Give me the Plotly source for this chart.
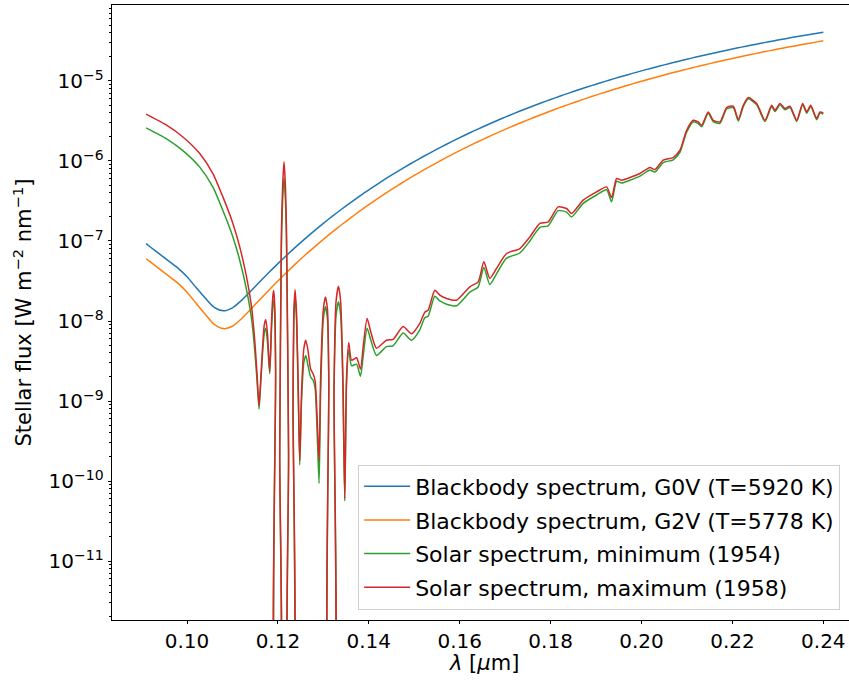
import numpy as np
import plotly.graph_objects as go

# ---------------- data ----------------
bb_wavelength_um = [
    0.091, 0.092, 0.094, 0.096, 0.098, 0.100, 0.102, 0.104, 0.106, 0.108,
    0.110, 0.112, 0.114, 0.116, 0.118, 0.120, 0.122, 0.124, 0.126, 0.128,
    0.130, 0.132, 0.134, 0.136, 0.138, 0.140, 0.142, 0.144, 0.146, 0.148,
    0.150, 0.152, 0.154, 0.156, 0.158, 0.160, 0.162, 0.164, 0.166, 0.168,
    0.170, 0.172, 0.174, 0.176, 0.178, 0.180, 0.182, 0.184, 0.186, 0.188,
    0.190, 0.192, 0.194, 0.196, 0.198, 0.200, 0.202, 0.204, 0.206, 0.208,
    0.210, 0.212, 0.214, 0.216, 0.218, 0.220, 0.222, 0.224, 0.226, 0.228,
    0.230, 0.232, 0.234, 0.236, 0.238, 0.240]

# log10 of flux [W m^-2 nm^-1]
bb_g0v_log10 = [
    -7.034, -7.078, -7.165, -7.252, -7.339, -7.447, -7.582, -7.713, -7.830, -7.873,
    -7.835, -7.742, -7.629, -7.510, -7.395, -7.283, -7.1745, -7.0703, -6.9699, -6.8732,
    -6.7800, -6.6902, -6.6035, -6.5198, -6.4390, -6.3610, -6.2856, -6.2127, -6.1423, -6.0741,
    -6.0082, -5.9444, -5.8826, -5.8227, -5.7647, -5.7085, -5.6541, -5.6012, -5.5500, -5.5004,
    -5.4521, -5.4053, -5.3599, -5.3158, -5.2729, -5.2313, -5.1909, -5.1516, -5.1134, -5.0762,
    -5.0401, -5.0050, -4.9708, -4.9375, -4.9052, -4.8737, -4.8431, -4.8132, -4.7842, -4.7559,
    -4.7283, -4.7015, -4.6754, -4.6499, -4.6251, -4.6009, -4.5773, -4.5544, -4.5319, -4.5101,
    -4.4888, -4.4681, -4.4478, -4.4281, -4.4088, -4.3900]

bb_g2v_log10 = [
    -7.222, -7.265, -7.352, -7.440, -7.527, -7.640, -7.777, -7.915, -8.042, -8.095,
    -8.066, -7.971, -7.855, -7.734, -7.615, -7.499, -7.3871, -7.2795, -7.1758, -7.0759,
    -6.9795, -6.8867, -6.7971, -6.7105, -6.6270, -6.5463, -6.4683, -6.3928, -6.3200, -6.2494,
    -6.1811, -6.1151, -6.0510, -5.9890, -5.9289, -5.8706, -5.8142, -5.7594, -5.7063, -5.6548,
    -5.6047, -5.5561, -5.5090, -5.4632, -5.4186, -5.3754, -5.3334, -5.2926, -5.2529, -5.2142,
    -5.1766, -5.1401, -5.1045, -5.0699, -5.0362, -5.0034, -4.9715, -4.9404, -4.9101, -4.8806,
    -4.8518, -4.8239, -4.7966, -4.7700, -4.7441, -4.7188, -4.6942, -4.6702, -4.6467, -4.6239,
    -4.6016, -4.5799, -4.5587, -4.5380, -4.5178, -4.4981]

solar_wavelength_um = [
    0.0910, 0.0955, 0.0991, 0.1028, 0.1057, 0.1079, 0.1101, 0.1116, 0.1131, 0.1142, 0.1149, 0.1154, 0.11585,
    0.1162, 0.1166, 0.1170, 0.11733, 0.1177, 0.1182, 0.1186, 0.1189, 0.11908, 0.1193, 0.1195, 0.1196,
    0.1203, 0.1204, 0.12077, 0.12105, 0.12135, 0.12165, 0.1219, 0.12235, 0.1225,
    0.1232, 0.12333, 0.1235, 0.12378, 0.1241, 0.1245, 0.12481, 0.1252, 0.1257, 0.12613, 0.1266,
    0.1272, 0.12774, 0.1282, 0.1287, 0.12906, 0.1294, 0.1300, 0.13046, 0.1309, 0.1312, 0.1314,
    0.1322, 0.13235, 0.1328, 0.13332, 0.1338, 0.1343, 0.13471, 0.1351, 0.13559, 0.1362, 0.1373,
    0.13817, 0.1388, 0.13963, 0.1405, 0.14169,
    0.14389, 0.14535, 0.14755, 0.1494, 0.15122, 0.15232, 0.15305, 0.15452, 0.15562, 0.1571,
    0.1593, 0.16223, 0.16406, 0.16531, 0.16663, 0.1681, 0.1703, 0.17324, 0.17544, 0.17764,
    0.17947, 0.18167, 0.18351, 0.18461, 0.18717, 0.19011, 0.19232, 0.19342, 0.19452, 0.19562,
    0.19745, 0.19965, 0.20185, 0.20295, 0.20478, 0.20698, 0.20845, 0.20993, 0.21138, 0.21248,
    0.21323, 0.21468, 0.21578, 0.21726, 0.21873, 0.22019, 0.22129, 0.22239, 0.22349, 0.22534,
    0.22716, 0.22864, 0.22937, 0.23047, 0.23157, 0.23267, 0.23414, 0.23546, 0.23634, 0.23722,
    0.23854, 0.23927, 0.2400]

solar_min_1954_log10 = [
    -5.586, -5.723, -5.870, -6.077, -6.327, -6.619, -6.949, -7.24, -7.61, -7.97, -8.36, -8.74, -9.10,
    -8.80, -8.43, -8.15, -8.09, -8.26, -8.66, -8.10, -7.79, -7.74, -7.92, -8.70, -13.0,
    -13.0, -9.7, -7.05, -6.48, -6.21, -6.48, -7.05, -9.7, -13.0,
    -13.0, -9.1, -8.00, -7.68, -7.98, -9.00, -9.80, -9.00, -8.52, -8.43, -8.55,
    -8.70, -8.74, -8.85, -9.50, -10.03, -8.90, -7.97, -7.82, -7.97, -8.80, -13.0,
    -13.0, -8.9, -7.93, -7.76, -7.92, -8.80, -10.25, -8.80, -8.36, -8.56, -8.54,
    -8.69, -8.42, -8.09, -8.25, -8.43,
    -8.32, -8.31, -8.15, -8.24, -8.11, -7.96, -7.94, -7.69, -7.75, -7.79,
    -7.81, -7.64, -7.575, -7.33, -7.545, -7.41, -7.215, -7.15, -7.00, -6.83,
    -6.81, -6.62, -6.64, -6.70, -6.53, -6.425, -6.36, -6.51, -6.255, -6.275,
    -6.24, -6.19, -6.113, -6.137, -6.02, -5.985, -5.892, -5.64, -5.512, -5.532,
    -5.573, -5.405, -5.509, -5.53, -5.35, -5.333, -5.50, -5.32, -5.223, -5.298,
    -5.507, -5.32, -5.382, -5.297, -5.36, -5.331, -5.506, -5.297, -5.402, -5.319,
    -5.485, -5.402, -5.415]

solar_max_1958_log10 = [
    -5.415, -5.553, -5.700, -5.907, -6.157, -6.449, -6.781, -7.074, -7.449, -7.823, -8.239, -8.655, -9.06,
    -8.75, -8.35, -8.05, -7.98, -8.15, -8.63, -8.00, -7.68, -7.62, -7.80, -8.60, -13.0,
    -13.0, -9.6, -6.90, -6.30, -6.01, -6.30, -6.90, -9.6, -13.0,
    -13.0, -9.0, -7.90, -7.61, -7.90, -8.90, -9.75, -8.90, -8.35, -8.24, -8.36,
    -8.60, -8.66, -8.75, -9.30, -9.75, -8.70, -7.85, -7.70, -7.85, -8.70, -13.0,
    -13.0, -8.8, -7.75, -7.565, -7.75, -8.70, -10.22, -8.70, -8.27, -8.49, -8.46,
    -8.60, -8.30, -7.97, -8.15, -8.34,
    -8.24, -8.23, -8.07, -8.16, -8.03, -7.89, -7.865, -7.615, -7.677, -7.718,
    -7.74, -7.573, -7.511, -7.261, -7.468, -7.344, -7.156, -7.094, -6.949, -6.781,
    -6.761, -6.574, -6.594, -6.657, -6.49, -6.387, -6.324, -6.457, -6.219, -6.24,
    -6.207, -6.157, -6.082, -6.107, -5.99, -5.957, -5.866, -5.616, -5.491, -5.512,
    -5.553, -5.387, -5.491, -5.512, -5.332, -5.316, -5.482, -5.304, -5.207, -5.282,
    -5.491, -5.304, -5.366, -5.282, -5.345, -5.316, -5.491, -5.282, -5.387, -5.304,
    -5.47, -5.387, -5.40]

x_tick_values = [0.10, 0.12, 0.14, 0.16, 0.18, 0.20, 0.22, 0.24]
x_tick_labels = ["0.10", "0.12", "0.14", "0.16", "0.18", "0.20", "0.22", "0.24"]
y_tick_exponents = [-11, -10, -9, -8, -7, -6, -5]

series_names = ["Blackbody spectrum, G0V (T=5920 K)",
                "Blackbody spectrum, G2V (T=5778 K)",
                "Solar spectrum, minimum (1954)",
                "Solar spectrum, maximum (1958)"]
series_colors = ["#1f77b4", "#ff7f0e", "#2ca02c", "#d62728"]

# ---------------- figure ----------------
series = [
    (bb_wavelength_um, bb_g0v_log10, 0.8),
    (bb_wavelength_um, bb_g2v_log10, 0.8),
    (solar_wavelength_um, solar_min_1954_log10, 0.6),
    (solar_wavelength_um, solar_max_1958_log10, 0.6),
]

fig = go.Figure()
for i, (xs, ylog, smooth) in enumerate(series):
    assert len(xs) == len(ylog)
    fig.add_trace(go.Scatter(
        x=xs, y=np.power(10.0, np.array(ylog)), mode="lines",
        name=series_names[i],
        line=dict(color=series_colors[i], width=1.5, shape="spline", smoothing=smooth),
        legendgroup=f"g{i}",
    ))

font_family = "DejaVu Sans"
axis_common = dict(
    showline=True, linecolor="black", linewidth=0.8,
    ticks="outside", ticklen=3.5, tickwidth=0.8, tickcolor="black",
    showgrid=False, zeroline=False,
    tickfont=dict(family=font_family, size=20, color="black"),
)

fig.update_layout(
    width=849, height=682,
    margin=dict(l=112, r=0, t=5, b=62),
    paper_bgcolor="white", plot_bgcolor="white",
    font=dict(family=font_family, size=20, color="black"),
    showlegend=True,
    legend=dict(
        x=0.988, y=0.017, xanchor="right", yanchor="bottom",
        bgcolor="rgba(255,255,255,0.8)", bordercolor="#d0d0d0", borderwidth=1,
        font=dict(family=font_family, size=22, color="black"),
        tracegroupgap=2, itemwidth=46,
    ),
    xaxis=dict(
        range=[0.0835, 0.24565], tickmode="array",
        tickvals=x_tick_values, ticktext=x_tick_labels,
        mirror=True, **axis_common,
    ),
    yaxis=dict(
        type="log", range=[-11.737, -4.0506], tickmode="array",
        tickvals=[10.0 ** e for e in y_tick_exponents],
        ticktext=[f"10<sup>\u2212{-e}</sup>" for e in y_tick_exponents],
        minor=dict(ticks="outside", ticklen=2, tickwidth=0.6, tickcolor="black",
                   dtick="D1", showgrid=False),
        **axis_common,
    ),
    annotations=[
        dict(text="<i>\u03bb</i> [<i>\u00b5</i>m]", xref="paper", yref="paper",
             x=0.5054, y=-0.0699, xanchor="center", yanchor="middle", showarrow=False,
             font=dict(family=font_family, size=21, color="black")),
        dict(text="Stellar flux [W m<sup>\u22122</sup> nm<sup>\u22121</sup>]",
             xref="paper", yref="paper", x=-0.122, y=0.5, textangle=-90,
             xanchor="center", yanchor="middle", showarrow=False,
             font=dict(family=font_family, size=21, color="black")),
    ],
)

fig.write_html("out.html")
